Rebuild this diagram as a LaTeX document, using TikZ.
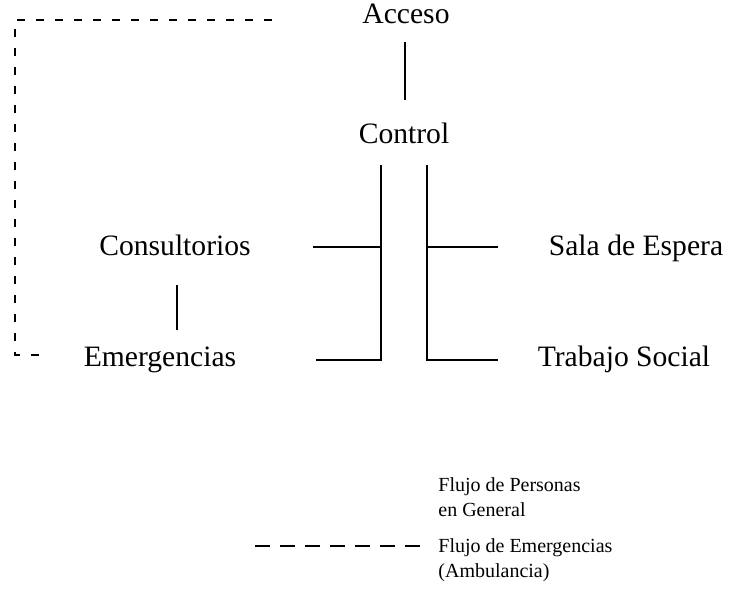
\documentclass[tikz,border=0pt]{standalone}
\usepackage{fontspec}
\setmainfont{Liberation Serif}
\usetikzlibrary{positioning}

\begin{document}
\begin{tikzpicture}[x=0.5pt,y=-0.5pt,
  area/.style={font=\fontsize{14.8}{17}\selectfont,inner sep=0pt,anchor=base},
  legtext/.style={font=\fontsize{10}{12.5}\selectfont,align=left,anchor=west,inner sep=0pt},
  flow/.style={line width=1pt},
  ambul/.style={line width=0.9pt,dash pattern=on 4pt off 5.5pt}]
\useasboundingbox (0,0) rectangle (733,597);
% areas
\node[area] (acceso) at (406,24) {Acceso};
\node[area] (control) at (404,144) {Control};
\node[area] (consult) at (175,256) {Consultorios};
\node[area] (emerg) at (160,367) {Emergencias};
\node[area] (sala) at (636,256) {Sala de Espera};
\node[area] (trabajo) at (624,367) {Trabajo Social};
% junctions
\coordinate (accA) at (405,42);
\coordinate (accB) at (405,100);
\coordinate (ctlL) at (381,165);
\coordinate (ctlR) at (427,165);
\coordinate (consR) at (313,247);
\coordinate (emergR) at (316,360);
\coordinate (salaL) at (498,247);
\coordinate (trabL) at (498,360);
\coordinate (consB) at (177,285);
\coordinate (emergT) at (177,330);
% flujo de personas
\draw[flow] (accA) -- (accB);
\draw[flow] (ctlL) |- (emergR);
\draw[flow] (consR) -- (consR -| ctlL);
\draw[flow] (ctlR) |- (trabL);
\draw[flow] (ctlR |- salaL) -- (salaL);
\draw[flow] (consB) -- (emergT);
% flujo de emergencias
\coordinate (ambA) at (272,20);
\coordinate (ambB) at (15,355);
\coordinate (ambC) at (48,355);
\draw[ambul] (ambA) -| (ambB) -- (ambC);
% leyenda
\node[legtext] (leg1) at (438,497) {Flujo de Personas\\en General};
\node[legtext] (leg2) at (438,560) {Flujo de Emergencias\\(Ambulancia)};
\coordinate (legdash) at (255,546);
\draw[ambul,dash pattern=on 7.5pt off 5pt] (legdash) -- ([xshift=-5pt]legdash -| leg2.west);
\end{tikzpicture}
\end{document}
